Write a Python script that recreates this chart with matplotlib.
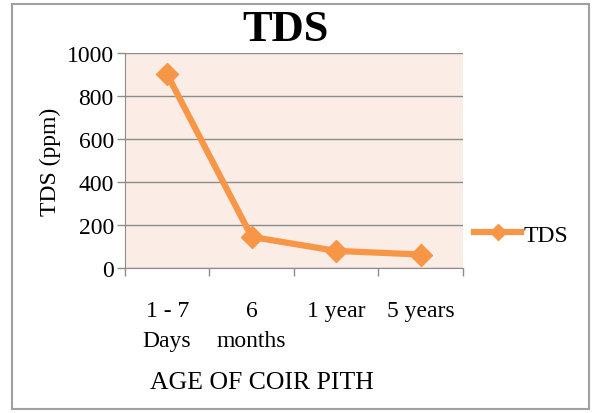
import matplotlib.pyplot as plt
from matplotlib.patches import Rectangle

categories = ['1 - 7\nDays', '6\nmonths', '1 year', '5 years']
tds_values = [900, 145, 80, 63]
y_ticks = [0, 200, 400, 600, 800, 1000]

orange = '#F79646'
plt.rcParams['font.family'] = ['Liberation Serif', 'DejaVu Serif']

fig = plt.figure(figsize=(5.92, 4.14), dpi=100)
ax = fig.add_axes([0.211, 0.350, 0.571, 0.520])
ax.set_facecolor('#FBECE6')

x = range(len(categories))
ax.plot(x, tds_values, color=orange, lw=4.5, marker='D', ms=11, label='TDS',
        solid_joinstyle='miter', zorder=3)

ax.set_xlim(-0.5, len(categories) - 0.5)
ax.set_ylim(0, 1000)
ax.set_yticks(y_ticks)
ax.yaxis.grid(True, color='#8c8c8c', lw=1)
ax.set_axisbelow(True)

ax.set_xticks(list(x))
ax.set_xticklabels(categories, fontsize=17, linespacing=1.55)
ax.set_xticks([i - 0.5 for i in range(len(categories) + 1)], minor=True)
ax.tick_params(axis='x', which='major', length=0, pad=23)
ax.tick_params(axis='x', which='minor', length=6, color='#8c8c8c', width=1)
ax.tick_params(axis='y', length=6, color='#8c8c8c', width=1, labelsize=17, pad=2)

for s in ['top', 'right']:
    ax.spines[s].set_visible(False)
for s in ['left', 'bottom']:
    ax.spines[s].set_color('#8c8c8c')

ax.set_ylabel('TDS (ppm)', fontsize=17, labelpad=4)
fig.text(0.443, 0.075, 'AGE OF COIR PITH', fontsize=18.5, ha='center', va='center')
fig.text(0.483, 0.928, 'TDS', fontsize=32, fontweight='bold', ha='center', va='center')

fig.legend(loc='center left', bbox_to_anchor=(0.765, 0.43), frameon=False,
           fontsize=17, handlelength=2.0, handletextpad=0.1, markerscale=0.7)

fig.patches.append(Rectangle((0.02, 0.01), 0.975, 0.978, transform=fig.transFigure,
                             fill=False, edgecolor='#a0a0a0', lw=1.5))

fig.savefig('out.png', dpi=100)
